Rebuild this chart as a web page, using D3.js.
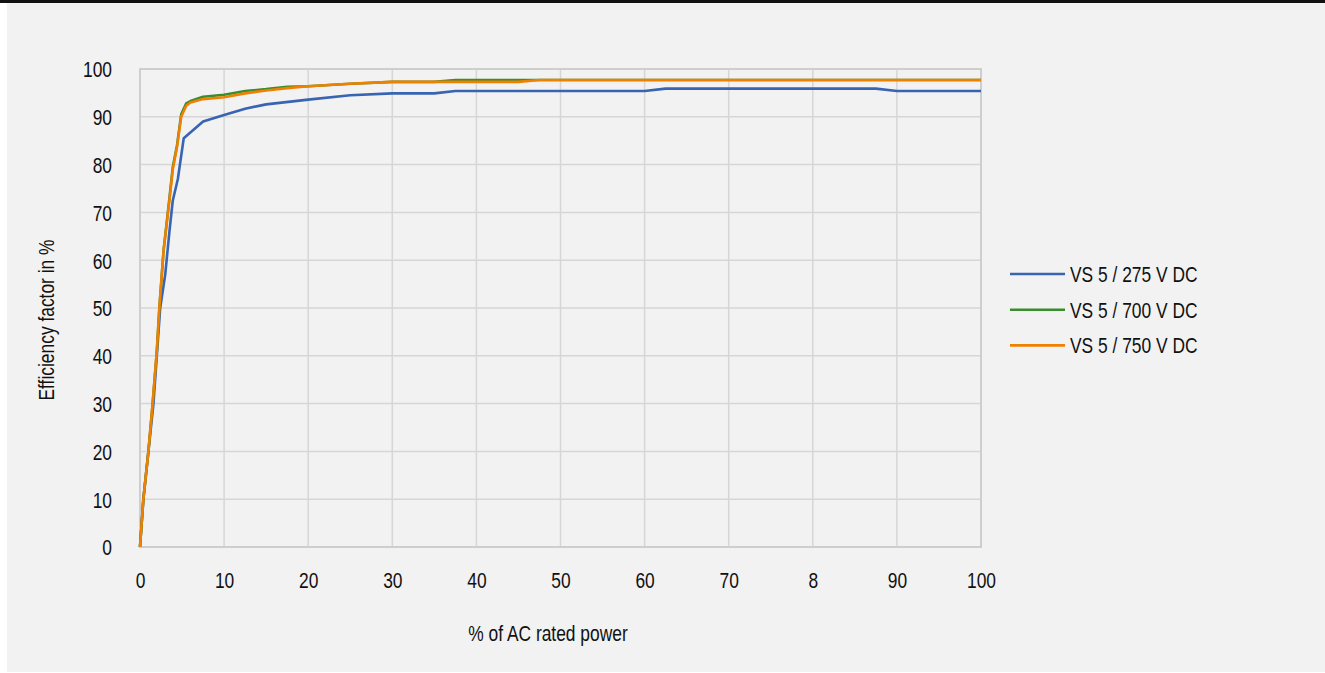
<!DOCTYPE html>
<html>
<head>
<meta charset="utf-8">
<script src="https://cdn.jsdelivr.net/npm/d3@7"></script>
<style>
  body { margin: 0; background: #ffffff; }
  svg text { font-family: "Liberation Sans", Arial, sans-serif; fill: #111; }
</style>
</head>
<body>
<svg id="svg"></svg>
<script>
const width = 1325, height = 673;

// x values in % of AC rated power, y values in % efficiency
const seriesNames = ["VS 5 / 275 V DC", "VS 5 / 700 V DC", "VS 5 / 750 V DC"];
const seriesColors = ["#3864b2", "#3a8c2f", "#f08000"];

const vs275 = [[0, 0], [0.4, 10], [1, 20], [1.6, 30], [2, 40], [2.4, 50], [3, 57], [3.5, 66], [3.9, 72.5],
    [4.5, 77], [5.2, 85.5], [7.5, 89], [10, 90.4], [12.5, 91.7], [15, 92.6], [20, 93.6], [25, 94.5],
    [30, 94.9], [35, 94.9], [37.5, 95.4], [40, 95.4], [45, 95.4], [50, 95.4], [55, 95.4], [60, 95.4],
    [62.5, 95.9], [65, 95.9], [70, 95.9], [75, 95.9], [80, 95.9], [85, 95.9], [87.5, 95.9], [90, 95.4],
    [95, 95.4], [100, 95.4]];

const vs700 = [[0, 0], [0.4, 10], [1, 20], [1.5, 30], [2, 41], [2.3, 50], [2.8, 62], [3.5, 73], [3.9, 79.5],
    [4.4, 84], [4.9, 90.5], [5.5, 92.8], [6, 93.3], [7.5, 94.2], [10, 94.6], [12.5, 95.4], [15, 95.8],
    [17.5, 96.3], [20, 96.4], [25, 96.9], [30, 97.3], [35, 97.3], [37.5, 97.7], [40, 97.7], [45, 97.7],
    [50, 97.7], [55, 97.7], [60, 97.7], [65, 97.7], [70, 97.7], [75, 97.7], [80, 97.7], [85, 97.7],
    [90, 97.7], [95, 97.7], [100, 97.7]];

const vs750 = [[0, 0], [0.4, 10], [1, 20], [1.5, 30], [2, 41], [2.3, 50], [2.8, 62], [3.5, 72.5], [3.9, 79],
    [4.4, 83.7], [4.9, 90], [5.5, 92.3], [6, 93], [7.5, 93.7], [10, 94.1], [12.5, 94.9], [15, 95.5],
    [17.5, 96], [20, 96.4], [25, 96.9], [30, 97.3], [35, 97.3], [40, 97.3], [45, 97.3], [47.5, 97.7],
    [50, 97.7], [55, 97.7], [60, 97.7], [65, 97.7], [70, 97.7], [75, 97.7], [80, 97.7], [85, 97.7],
    [90, 97.7], [95, 97.7], [100, 97.7]];

const xTickValues = [0, 10, 20, 30, 40, 50, 60, 70, 80, 90, 100];
const xTickLabels = ["0", "10", "20", "30", "40", "50", "60", "70", "8", "90", "100"];
const yTickValues = [0, 10, 20, 30, 40, 50, 60, 70, 80, 90, 100];

const xTitle = "% of AC rated power";
const yTitle = "Efficiency factor in %";

document.addEventListener("DOMContentLoaded", () => draw());

function draw() {
    const plot = { left: 140, right: 981, top: 69, bottom: 547 };
    const x = d3.scaleLinear().domain([0, 100]).range([plot.left, plot.right]);
    const y = d3.scaleLinear().domain([0, 100]).range([plot.bottom, plot.top]);

    const svg = d3.select("#svg").attr("width", width).attr("height", height);

    // page frame: black strip on top, grey panel
    svg.append("rect").attr("x", 0).attr("y", 0).attr("width", width).attr("height", 3).attr("fill", "#111");
    svg.append("rect").attr("x", 7).attr("y", 3).attr("width", width - 7).attr("height", 669).attr("fill", "#f2f2f2");

    // gridlines
    svg.append("g").selectAll("line").data(xTickValues).enter().append("line")
        .attr("x1", d => x(d)).attr("x2", d => x(d))
        .attr("y1", plot.top).attr("y2", plot.bottom)
        .attr("stroke", "#d6d6d6").attr("stroke-width", 1.5);
    svg.append("g").selectAll("line").data(yTickValues).enter().append("line")
        .attr("x1", plot.left).attr("x2", plot.right)
        .attr("y1", d => y(d)).attr("y2", d => y(d))
        .attr("stroke", "#d6d6d6").attr("stroke-width", 1.5);
    svg.append("rect")
        .attr("x", plot.left).attr("y", plot.top)
        .attr("width", plot.right - plot.left).attr("height", plot.bottom - plot.top)
        .attr("fill", "none").attr("stroke", "#cecece").attr("stroke-width", 2);

    // axes (labels only)
    const xAxis = d3.axisBottom(x).tickValues(xTickValues)
        .tickFormat((d, i) => xTickLabels[i]).tickSize(0).tickPadding(0);
    const gx = svg.append("g").attr("transform", `translate(0,${plot.bottom})`).call(xAxis);
    gx.select(".domain").remove();
    gx.selectAll("text").attr("dy", null).attr("y", 41).attr("fill", "#111")
        .style("font-size", "22px");

    const yAxis = d3.axisLeft(y).tickValues(yTickValues).tickSize(0).tickPadding(0);
    const gy = svg.append("g").attr("transform", `translate(112,0)`).call(yAxis);
    gy.select(".domain").remove();
    gy.selectAll("text").attr("x", 0).attr("dy", "0.36em").attr("fill", "#111")
        .style("font-size", "22px");
    gx.attr("font-family", null);
    gy.attr("font-family", null);

    // titles
    svg.append("text").attr("x", 548).attr("y", 641).attr("text-anchor", "middle")
        .style("font-size", "22px").text(xTitle);
    svg.append("text").attr("transform", "translate(54,320) rotate(-90)").attr("text-anchor", "middle")
        .style("font-size", "22px").text(yTitle);

    // series
    const line = d3.line().x(d => x(d[0])).y(d => y(d[1]));
    const series = [vs275, vs700, vs750];
    svg.append("g").selectAll("path").data(series).enter().append("path")
        .attr("d", line)
        .attr("fill", "none")
        .attr("stroke", (d, i) => seriesColors[i])
        .attr("stroke-width", 2.6)
        .attr("stroke-linejoin", "round");

    // legend
    const legend = svg.append("g").attr("transform", "translate(1010,274)");
    const items = legend.selectAll("g").data(seriesNames).enter().append("g")
        .attr("transform", (d, i) => `translate(0,${i * 35.7})`);
    items.append("line").attr("x1", 0).attr("x2", 55).attr("y1", 0).attr("y2", 0)
        .attr("stroke", (d, i) => seriesColors[i]).attr("stroke-width", 2.6);
    items.append("text").attr("x", 60).attr("dy", "0.36em")
        .style("font-size", "22px").text(d => d);

    // condensed look: squeeze every label horizontally
    svg.selectAll("text").each(function () {
        const w = this.getComputedTextLength();
        d3.select(this).attr("textLength", w * 0.79).attr("lengthAdjust", "spacingAndGlyphs");
    });
}
</script>
</body>
</html>
